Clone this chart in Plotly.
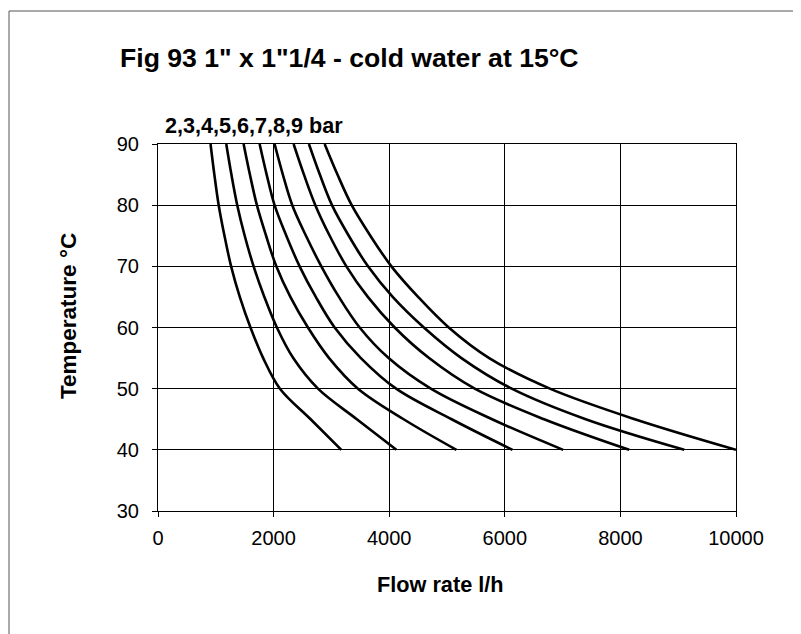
import plotly.graph_objects as go

temps = [90, 85, 80, 75, 70, 65, 60, 55, 50, 45, 40]
pressures = ["2 bar", "3 bar", "4 bar", "5 bar", "6 bar", "7 bar", "8 bar", "9 bar"]
flow_2bar = [909, 975, 1050, 1150, 1265, 1415, 1600, 1820, 2110, 2641, 3172]
flow_3bar = [1181, 1270, 1371, 1500, 1654, 1840, 2057, 2340, 2768, 3440, 4124]
flow_4bar = [1481, 1590, 1711, 1870, 2047, 2290, 2594, 2960, 3460, 4250, 5163]
flow_5bar = [1758, 1880, 2017, 2220, 2450, 2730, 3056, 3510, 4120, 5080, 6133]
flow_6bar = [2017, 2160, 2323, 2560, 2826, 3130, 3489, 3990, 4720, 5780, 7010]
flow_7bar = [2346, 2525, 2722, 2970, 3259, 3630, 4095, 4690, 5480, 6680, 8152]
flow_8bar = [2611, 2800, 3010, 3300, 3633, 4060, 4600, 5250, 6120, 7400, 9105]
flow_9bar = [2883, 3105, 3351, 3674, 4038, 4500, 5030, 5730, 6780, 8250, 10000]
flows = [flow_2bar, flow_3bar, flow_4bar, flow_5bar, flow_6bar, flow_7bar, flow_8bar, flow_9bar]

x_ticks = [0, 2000, 4000, 6000, 8000, 10000]
y_ticks = [30, 40, 50, 60, 70, 80, 90]

FONT = "Arial, Liberation Sans, sans-serif"

# page offset (body margin) and figure geometry
OFF = 8
W, H = 801 - OFF, 634 - OFF
L, R, T, B = 158 - OFF, 65, 144 - OFF, 123
pw, ph = W - L - R, H - T - B


def px_to_paper(xp, yp):
    """page pixel -> plot paper coordinates"""
    xf, yf = xp - OFF, yp - OFF
    return (xf - L) / pw, (H - B - yf) / ph


fig = go.Figure()
for name, fl in zip(pressures, flows):
    fig.add_trace(go.Scatter(x=fl, y=temps, mode="lines", name=name,
                             line=dict(color="black", width=2.6, shape="spline", smoothing=1.0),
                             showlegend=False, hoverinfo="x+y+name"))

fig.update_layout(
    width=W, height=H,
    margin=dict(l=L, r=R, t=T, b=B),
    paper_bgcolor="white", plot_bgcolor="white",
    font=dict(family=FONT, color="black", size=20),
    showlegend=False,
)
fig.update_xaxes(range=[0, 10000], tickvals=x_ticks, ticktext=[str(v) for v in x_ticks],
                 showgrid=True, gridcolor="black", gridwidth=1,
                 showline=True, linecolor="black", linewidth=1, mirror=True,
                 ticks="outside", ticklen=5, tickcolor="black",
                 tickfont=dict(size=20, family=FONT), ticklabelstandoff=4, zeroline=False)
fig.update_yaxes(range=[30, 90], tickvals=y_ticks, ticktext=[str(v) for v in y_ticks],
                 showgrid=True, gridcolor="black", gridwidth=1,
                 showline=True, linecolor="black", linewidth=1, mirror=True,
                 ticks="outside", ticklen=5, tickcolor="black",
                 tickfont=dict(size=20, family=FONT), ticklabelstandoff=9, zeroline=False)

annos = [
    ("<b>Fig 93 1\" x 1\"1/4 - cold water at 15°C</b>", 118, 58, "left", 26.6, 0),
    ("<b>2,3,4,5,6,7,8,9 bar</b>", 163, 126, "left", 21.6, 0),
    ("<b>Flow rate l/h</b>", 440, 584, "center", 21.7, 0),
    ("<b>Temperature °C</b>", 68, 316, "center", 22.5, -90),
]
for text, xp, yp, xa, size, ang in annos:
    px, py = px_to_paper(xp, yp)
    fig.add_annotation(text=text, x=px, y=py, xref="paper", yref="paper",
                       xanchor=xa, yanchor="middle", showarrow=False, textangle=ang,
                       font=dict(size=size, family=FONT, color="black"))

# outer frame (top and left edges)
x0, y0 = px_to_paper(9, 11)
x1, _ = px_to_paper(801 + 5, 11)
_, y1 = px_to_paper(9, 634 + 5)
fig.add_shape(type="line", xref="paper", yref="paper", x0=x0, y0=y0, x1=x1, y1=y0,
              line=dict(color="#555555", width=1))
fig.add_shape(type="line", xref="paper", yref="paper", x0=x0, y0=y0, x1=x0, y1=y1,
              line=dict(color="#555555", width=1))

fig.write_html("out.html")
